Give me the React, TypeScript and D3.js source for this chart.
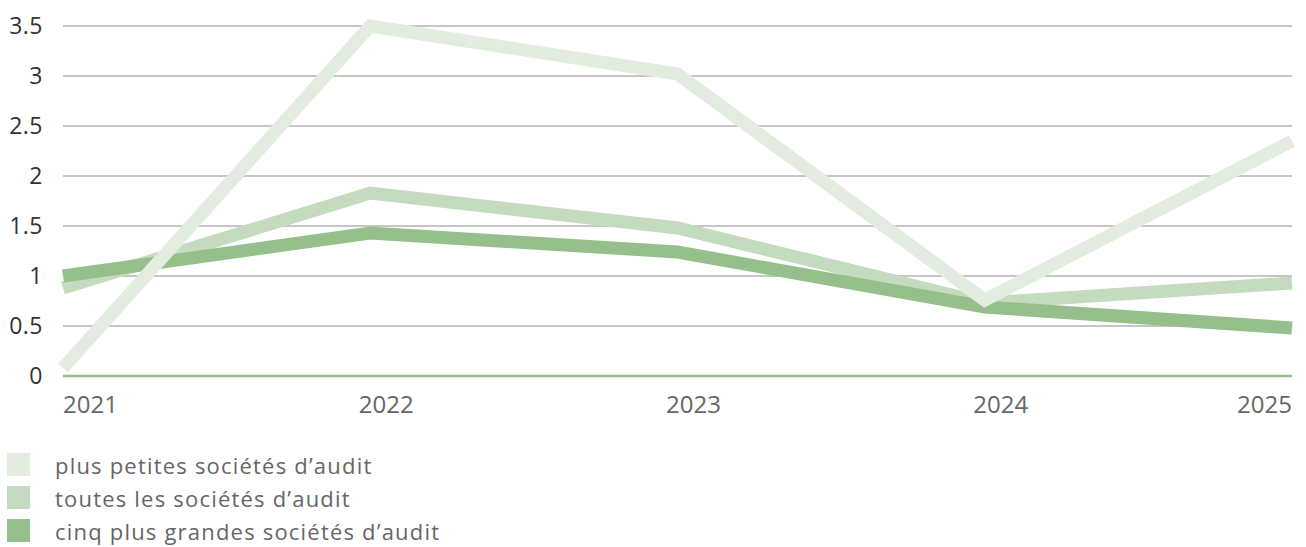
import React from 'react';
import * as d3 from 'd3';

const years = ['2021', '2022', '2023', '2024', '2025'];
const smaller = [0.08, 3.5, 3.02, 0.76, 2.35];
const allFirms = [0.88, 1.83, 1.48, 0.73, 0.93];
const bigFive = [1.0, 1.43, 1.24, 0.69, 0.48];
const yTicks = [0, 0.5, 1, 1.5, 2, 2.5, 3, 3.5];

const series = [
  { name: 'plus petites sociétés d’audit', values: smaller, color: '#e2ede0' },
  { name: 'toutes les sociétés d’audit', values: allFirms, color: '#c5dbbf' },
  { name: 'cinq plus grandes sociétés d’audit', values: bigFive, color: '#95c08b' },
];

const width = 1306;
const height = 547;
const margin = { top: 26, left: 63, right: 14, bottom: 171 };
const font = '"Open Sans", sans-serif';

export default function App() {
  const x = d3.scalePoint<string>()
    .domain(years)
    .range([margin.left, width - margin.right]);
  const y = d3.scaleLinear()
    .domain([0, 3.5])
    .range([height - margin.bottom, margin.top]);

  const line = d3.line<number>()
    .x((d, i) => x(years[i]) as number)
    .y(d => y(d));

  // draw order: toutes, cinq, then the lightest on top
  const drawOrder = [series[1], series[2], series[0]];

  return (
    <div style={{ position: 'absolute', left: 0, top: 0 }}>
      <svg width={width} height={height} style={{ display: 'block', fontFamily: font }}>
        {yTicks.map(t => (
          <g key={t}>
            {t > 0 && (
              <line x1={margin.left} x2={width - margin.right} y1={y(t)} y2={y(t)}
                stroke="#8c8c8c" strokeWidth={1} />
            )}
            <text x={43} y={y(t)} dy="0.35em" textAnchor="end" fontSize={23}
              letterSpacing={0.5} fill="#333">
              {String(t)}
            </text>
          </g>
        ))}
        <line x1={margin.left} x2={width - margin.right} y1={y(0)} y2={y(0)}
          stroke="#95c08b" strokeWidth={2.5} />
        {years.map((yr, i) => {
          const anchor = i === 0 ? 'start' : i === years.length - 1 ? 'end' : 'middle';
          const dx = anchor === 'middle' ? 16 : 0;
          return (
            <text key={yr} x={(x(yr) as number) + dx} y={413} textAnchor={anchor}
              fontSize={24} fill="#666">{yr}</text>
          );
        })}
        {drawOrder.map(s => (
          <path key={s.name} d={line(s.values) || ''} fill="none" stroke={s.color}
            strokeWidth={13} strokeLinejoin="miter" />
        ))}
        {series.map((s, i) => (
          <g key={s.name} transform={`translate(7,${453 + i * 33})`}>
            <rect width={23} height={23} fill={s.color} />
            <text x={48} y={21} fontSize={22} letterSpacing={1.2} fill="#666">{s.name}</text>
          </g>
        ))}
      </svg>
    </div>
  );
}
